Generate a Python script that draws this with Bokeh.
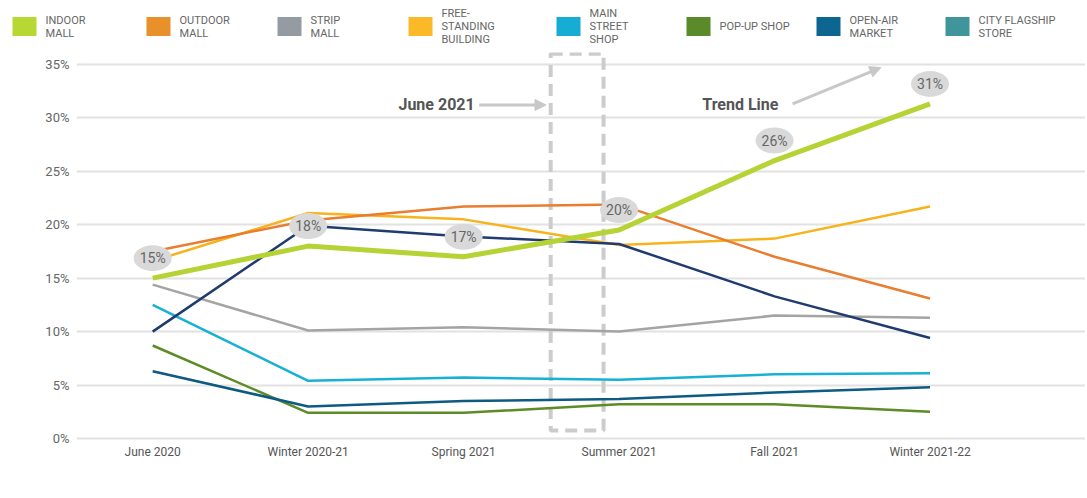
from bokeh.plotting import figure
from bokeh.models import Range1d, FixedTicker, Arrow, NormalHead, PrintfTickFormatter
from bokeh.core.properties import value
from bokeh.embed import file_html
from bokeh.resources import INLINE

# ---------------- data ----------------
periods = ["June 2020", "Winter 2020-21", "Spring 2021", "Summer 2021", "Fall 2021", "Winter 2021-22"]
indoor_mall = [15.0, 18.0, 17.0, 19.5, 26.0, 31.3]
outdoor_mall = [17.5, 20.4, 21.7, 21.9, 17.0, 13.1]
strip_mall = [14.4, 10.1, 10.4, 10.0, 11.5, 11.3]
free_standing = [16.6, 21.1, 20.5, 18.1, 18.7, 21.7]
main_street = [12.5, 5.4, 5.7, 5.5, 6.0, 6.1]
pop_up = [8.7, 2.4, 2.4, 3.2, 3.2, 2.5]
open_air = [6.3, 3.0, 3.5, 3.7, 4.3, 4.8]
city_flagship = [10.0, 19.9, 18.9, 18.2, 13.3, 9.4]
y_ticks = [0, 5, 10, 15, 20, 25, 30, 35]

legend_labels = ["INDOOR\nMALL", "OUTDOOR\nMALL", "STRIP\nMALL", "FREE-\nSTANDING\nBUILDING",
                 "MAIN\nSTREET\nSHOP", "POP-UP SHOP", "OPEN-AIR\nMARKET", "CITY FLAGSHIP\nSTORE"]
legend_colors = ["#b7d833", "#e8902a", "#959ba2", "#fbb827", "#17acd3", "#5a8a2a", "#0d6690", "#3f9599"]

FONT = value("Roboto")
GRID = "#e2e2e2"
TXT = "#666666"
W = 1085

# ---------------- legend strip ----------------
leg = figure(width=W, height=52, x_range=Range1d(0, W), y_range=Range1d(52, 0),
             x_axis_location=None, y_axis_location=None, toolbar_location=None,
             output_backend="svg", min_border=0)
leg.grid.visible = False
leg.outline_line_color = None
sq_left = [12, 146, 277, 408, 556, 686, 816, 945]
leg.rect(x=[s + 12 for s in sq_left], y=[26] * 8, width=24, height=19,
         fill_color=legend_colors, line_color=None)
tx, ty, tt = [], [], []
for s, lab in zip(sq_left, legend_labels):
    lines = lab.split("\n")
    n = len(lines)
    for i, ln in enumerate(lines):
        tx.append(s + 33)
        ty.append(26 + (i - (n - 1) / 2) * 13)
        tt.append(ln)
leg.text(x=tx, y=ty, text=tt, text_font=FONT, text_font_size="11px", text_color=TXT,
         text_align="left", text_baseline="middle")

# ---------------- main chart ----------------
xs = list(range(len(periods)))
p = figure(width=W, height=416, x_range=Range1d(-0.49, 6.0), y_range=Range1d(-0.28, 36.11),
           toolbar_location=None, output_backend="svg",
           min_border_left=76, min_border_right=0, min_border_top=0, min_border_bottom=27)
p.outline_line_color = None
p.xgrid.visible = False
p.ygrid.grid_line_color = GRID
p.ygrid.grid_line_width = 2

p.yaxis.ticker = FixedTicker(ticks=y_ticks)
p.yaxis.formatter = PrintfTickFormatter(format="%d%%")
p.xaxis.ticker = FixedTicker(ticks=xs)
p.xaxis.major_label_overrides = {i: lab for i, lab in enumerate(periods)}
for ax in (p.xaxis, p.yaxis):
    ax.axis_line_color = None
    ax.major_tick_line_color = None
    ax.minor_tick_line_color = None
    ax.major_tick_out = 0
    ax.minor_tick_out = 0
    ax.major_label_text_font = "Roboto"
    ax.major_label_text_color = TXT
p.yaxis.major_label_text_font_size = "13px"
p.yaxis.major_label_standoff = 7
p.xaxis.major_label_text_font_size = "12px"
p.xaxis.major_label_text_color = "#555555"
p.xaxis.major_label_standoff = 3

# dashed June 2021 box
p.quad(left=[2.56], right=[2.90], bottom=[0.75], top=[36.0], fill_color=None,
       line_color="#cccccc", line_width=4, line_dash="12 7")

series = [
    (strip_mall, "#a4a4a4", 2.5),
    (main_street, "#17b0d6", 2.5),
    (pop_up, "#5b8c25", 2.5),
    (open_air, "#0d5b82", 2.5),
    (free_standing, "#f8b31c", 2.5),
    (outdoor_mall, "#e97d30", 2.5),
    (city_flagship, "#1f3b70", 2.5),
    (indoor_mall, "#b5d334", 5),
]
for vals, col, w in series:
    p.line(xs, vals, line_color=col, line_width=w, line_join="round")

# value bubbles for indoor mall
off = 1.87
p.ellipse(x=xs, y=[v + off for v in indoor_mall], width=38, height=26,
          width_units="screen", height_units="screen", fill_color="#d9d9d9", line_color=None)
p.text(x=xs, y=[v + off for v in indoor_mall], text=[f"{round(v)}%" for v in indoor_mall],
       text_font=FONT, text_font_size="14px", text_color=TXT,
       text_align="center", text_baseline="middle")

# annotations
p.text(x=[1.826, 3.78], y=[31.2, 31.2], text=["June 2021", "Trend Line"],
       text_font=FONT, text_font_style="bold", text_font_size="16px", text_color="#555555",
       text_align="center", text_baseline="middle")
AC = "#c8c8c8"
p.add_layout(Arrow(end=NormalHead(size=11, fill_color=AC, line_color=AC),
                   x_start=2.10, y_start=31.2, x_end=2.53, y_end=31.2,
                   line_color=AC, line_width=3))
p.add_layout(Arrow(end=NormalHead(size=11, fill_color=AC, line_color=AC),
                   x_start=4.116, y_start=31.3, x_end=4.684, y_end=34.7,
                   line_color=AC, line_width=3))

open("out.html", "w").write(file_html([leg, p], INLINE))
